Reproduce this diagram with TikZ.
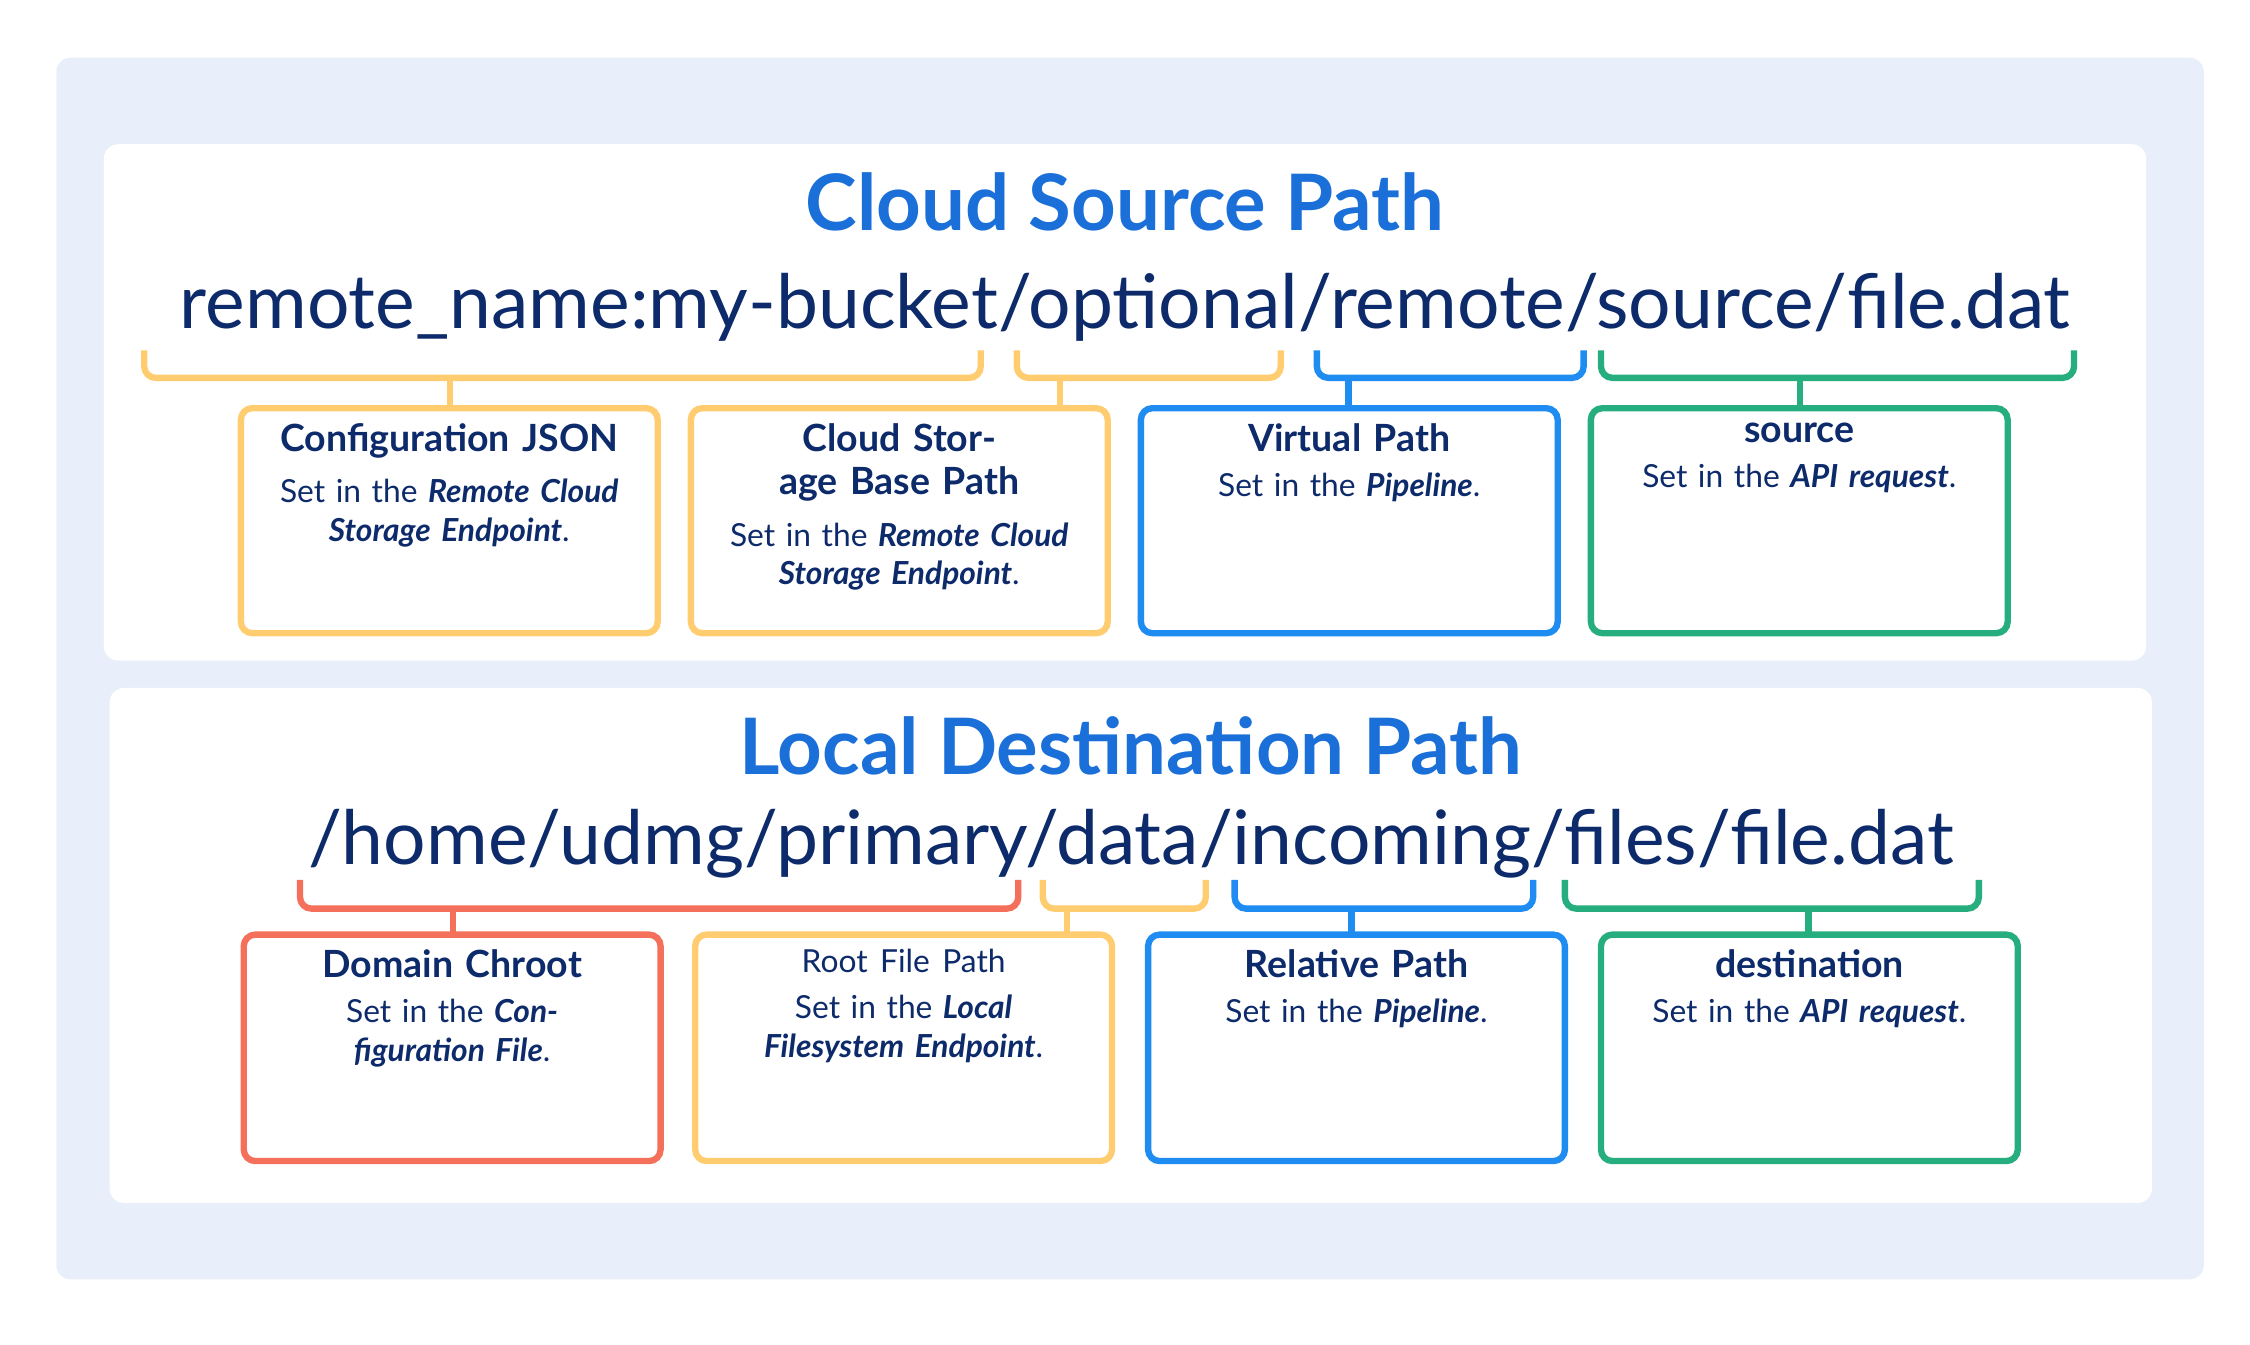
\documentclass[tikz,border=0pt]{standalone}
\usepackage{fontspec}
\setmainfont{Lato}
\definecolor{bgc}{HTML}{E8EFFA}
\definecolor{ttl}{HTML}{1A6FD8}
\definecolor{navy}{HTML}{0D2B6B}
\definecolor{cy}{HTML}{FFCC70}
\definecolor{cb}{HTML}{1E8CF0}
\definecolor{cg}{HTML}{27AE7F}
\definecolor{cr}{HTML}{F5705A}
\begin{document}
\begin{tikzpicture}[x=0.5pt,y=-0.5pt,
  panel/.style={fill=white,rounded corners=5pt},
  box/.style={draw=#1,line width=2.2pt,rounded corners=4pt,fill=white},
  brk/.style={draw=#1,line width=2.2pt,rounded corners=4pt},
  btitle/.style={anchor=north,text width=135pt,align=center,font=\bfseries\fontsize{13}{15}\selectfont,text=navy,inner sep=0pt},
  bbody/.style={anchor=north,text width=135pt,align=center,font=\fontsize{11}{13.5}\selectfont,text=navy,inner sep=0pt},
  big/.style={font=\bfseries\fontsize{27}{30}\selectfont,text=ttl},
  pth/.style={font=\fontsize{26}{30}\selectfont,text=navy}]
\useasboundingbox (0,0) rectangle (1560,932);
\fill[bgc,rounded corners=5pt] (39,40) rectangle (1528,887);
\fill[panel] (72,100) rectangle (1488,458);
\fill[panel] (76,477) rectangle (1492,834);
\node[big] (t1) at (780,140) {Cloud Source Path};
\node[pth] (p1) at (780,213) {remote\_name:my-bucket/optional/remote/source/file.dat};
\node[big] (t2) at (784,517) {Local Destination Path};
\node[pth] (p2) at (784,585) {/home/udmg/primary/data/incoming/files/file.dat};
\newcommand\mybrk[8]{%
  \coordinate (#8a) at (#2,#5); \coordinate (#8b) at (#3,#5);
  \coordinate (#8m) at (#4,#6); \coordinate (#8s) at (#4,#7);
  \draw[brk=#1] (#8a) |- (#8m) -| (#8b);
  \draw[#1,line width=2.2pt] (#8m) -- (#8s);}
\newcommand\mybox[8]{%
  \draw[box=#1] (#2,#4) rectangle (#3,#5);
  \node[btitle] (#8t) at ({(#2+#3)/2},{#4+10}) {#6};
  \node[bbody] (#8d) at ([yshift=-7pt]#8t.south) {#7};}
\mybrk{cy}{100}{680}{312}{243}{262}{282}{ba}
\mybrk{cy}{705}{888}{735}{243}{262}{282}{bb}
\mybrk{cb}{913}{1098}{935}{243}{262}{282}{bc}
\mybrk{cg}{1110}{1438}{1248}{243}{262}{282}{bd}
\mybrk{cr}{208}{706}{314}{610}{630}{648}{be}
\mybrk{cy}{723}{836}{740}{610}{630}{648}{bf}
\mybrk{cb}{856}{1063}{937}{610}{630}{648}{bg}
\mybrk{cg}{1085}{1372}{1254}{610}{630}{648}{bh}
\mybox{cy}{167}{456}{283}{439}{Configuration JSON}{Set in the \textbf{\itshape Remote Cloud Storage Endpoint}.}{xa}
\mybox{cy}{479}{768}{283}{439}{Cloud Storage Base Path}{Set in the \textbf{\itshape Remote Cloud Storage Endpoint}.}{xb}
\mybox{cb}{791}{1080}{283}{439}{Virtual Path}{Set in the \textbf{\itshape Pipeline}.}{xc}
\mybox{cg}{1103}{1392}{283}{439}{source}{Set in the \textbf{\itshape API request}.}{xd}
\mybox{cr}{169}{458}{648}{805}{Domain Chroot}{Set in the \textbf{\itshape Configuration File}.}{xe}
\mybox{cy}{482}{771}{648}{805}{\fontsize{11}{13}\selectfont\mdseries Root File Path}{Set in the \textbf{\itshape Local Filesystem Endpoint}.}{xf}
\mybox{cb}{796}{1085}{648}{805}{Relative Path}{Set in the \textbf{\itshape Pipeline}.}{xg}
\mybox{cg}{1110}{1399}{648}{805}{destination}{Set in the \textbf{\itshape API request}.}{xh}
\end{tikzpicture}
\end{document}
